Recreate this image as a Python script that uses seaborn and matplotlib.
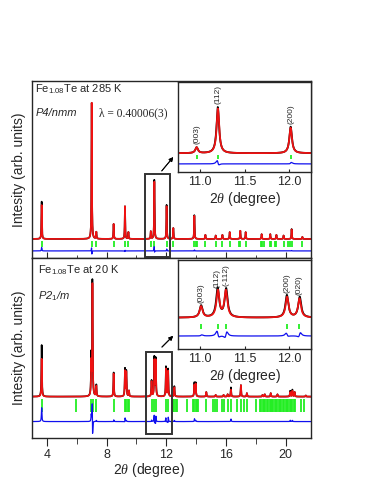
import numpy as np
import matplotlib
matplotlib.use("Agg")
import matplotlib.pyplot as plt
import seaborn as sns
from matplotlib.patches import Rectangle
from matplotlib.ticker import MultipleLocator

# ---- peak tables (2theta, calc height, obs height, obs shift) ----
rt_pos = [3.645, 7.00, 7.31, 8.47, 9.23, 9.46, 10.96, 11.20, 12.02, 12.47, 13.88,
          14.62, 15.31, 15.76, 16.25, 16.96, 17.32, 18.39, 18.97, 19.38, 19.86, 20.40, 21.12]
rt_calc = [25, 100, 5, 11, 24, 5, 5.5, 42, 24, 8, 17,
           3, 2.5, 3, 5, 6, 5, 3.5, 3.5, 3, 2.5, 7, 1.5]
rt_obs = [27.5, 100, 5, 11, 24, 5, 5.5, 43.5, 25, 8, 17.5,
          3, 2.5, 3, 5, 6, 5, 3.5, 3.5, 3, 2.5, 7.3, 1.5]
rt_shift = [0, -0.0006, 0, 0, 0.0005, 0, 0, -0.0012, 0.0006, 0, 0.0005,
            0, 0, 0, 0, 0, 0, 0, 0, 0, 0, 0, 0]
rt_ticks = [3.645, 7.0, 7.31, 8.47, 9.23, 9.46, 10.96, 11.2, 12.02, 12.47, 13.88, 13.97,
            14.05, 14.62, 15.31, 15.76, 16.25, 16.87, 16.96, 17.32, 18.35, 18.44, 18.52,
            18.92, 19.01, 19.28, 19.37, 19.86, 20.18, 20.27, 20.4, 21.12]

lt_pos = [3.645, 6.97, 7.05, 7.31, 8.47, 9.23, 9.32, 9.50, 11.01, 11.20, 11.29, 11.98,
          12.12, 12.54, 13.88, 13.97, 14.68, 15.31, 15.84, 16.11, 16.33, 17.00, 17.40,
          18.45, 18.60, 19.00, 19.45, 20.30, 20.45, 20.60, 21.35]
lt_calc = [33, 28, 97, 9, 20, 22, 21, 5, 13, 31, 31, 24,
           22, 8, 10, 11, 4, 1.5, 1.5, 2, 6, 10, 3,
           1.5, 2, 3, 2, 4, 5, 4, 1]
lt_obs = [45, 34, 100, 10, 21, 24, 22, 5, 14, 34, 33, 26,
          24, 9, 12, 12, 4, 1.5, 1.5, 2, 8, 10, 3,
          1.5, 2, 3, 2, 5, 6, 4, 1]
lt_shift = [0, 0, -0.004, 0, 0.001, 0.002, 0, 0, 0.001, -0.003, 0.003, -0.002,
            0.003, 0, 0.002, 0, 0, 0, 0, 0, 0.002, 0, 0,
            0, 0, 0, 0, 0.002, 0, 0, 0]
lt_ticks = [3.645, 5.97, 6.98, 7.08, 7.31, 8.47, 9.23, 9.32, 9.43, 9.52, 11.01, 11.2,
            11.29, 11.98, 12.12, 12.45, 12.54, 12.63, 12.71, 13.41, 13.79, 13.88, 13.97,
            14.05, 14.15, 14.68, 15.13, 15.26, 15.39, 15.71, 15.84, 16.11, 16.33, 16.73,
            17.0, 17.23, 17.4, 17.99, 18.25, 18.36, 18.45, 18.54, 18.62, 18.72, 18.83,
            18.92, 19.01, 19.1, 19.18, 19.27, 19.36, 19.45, 19.53, 19.62, 19.71, 19.8,
            19.9, 20.0, 20.09, 20.18, 20.27, 20.36, 20.45, 20.54, 20.63, 21.03, 21.25]

rt_hkl = ["(003)", "(112)", "(200)"]
rt_hkl_pos = [10.96, 11.20, 12.02]
lt_hkl = ["(003)", "(112)", "(-112)", "(200)", "(020)"]
lt_hkl_pos = [11.01, 11.19, 11.29, 11.98, 12.12]

RED, BLUE, GREEN = "#ee1111", "#1010ee", "#22ee22"


def profile(x, pos, height, shift, fwhm):
    """Somme de Lorentziennes."""
    y = np.zeros_like(x)
    for p, h, s in zip(pos, height, shift):
        y += h / (1 + ((x - p - s) / (fwhm / 2)) ** 2)
    return y


def draw_pattern(ax, x, obs, calc, ticks, tick_lo, tick_hi, diff_off, lw=1.2):
    sns.lineplot(x=x, y=obs, ax=ax, color="black", lw=lw, estimator=None, sort=False)
    sns.lineplot(x=x, y=calc, ax=ax, color=RED, lw=lw, estimator=None, sort=False)
    ax.vlines(ticks, tick_lo, tick_hi, color=GREEN, lw=1.3)
    sns.lineplot(x=x, y=obs - calc + diff_off, ax=ax, color=BLUE, lw=0.9,
                 estimator=None, sort=False)


sns.set_style("ticks")
plt.rcParams["font.family"] = ["Liberation Sans", "DejaVu Sans"]
plt.rcParams["mathtext.fontset"] = "custom"
plt.rcParams["mathtext.rm"] = "Liberation Sans"
plt.rcParams["mathtext.it"] = "Liberation Serif:italic"

x = np.arange(3.0, 21.7, 0.002)
fwhm_rt, fwhm_lt = 0.035, 0.04
rt_c = profile(x, rt_pos, rt_calc, [0] * len(rt_pos), fwhm_rt)
rt_o = profile(x, rt_pos, rt_obs, rt_shift, fwhm_rt)
lt_c = profile(x, lt_pos, lt_calc, [0] * len(lt_pos), fwhm_lt)
lt_o = profile(x, lt_pos, lt_obs, lt_shift, fwhm_lt)

fig = plt.figure(figsize=(3.71, 4.80), dpi=100)
ax1 = fig.add_axes([0.0863, 0.4625, 0.752, 0.36875])
ax2 = fig.add_axes([0.0863, 0.0875, 0.752, 0.375])
in1 = fig.add_axes([0.4798, 0.6417, 0.3585, 0.1875])
in2 = fig.add_axes([0.4798, 0.2729, 0.3585, 0.1854])

# --- panneau 285 K ---
draw_pattern(ax1, x, rt_o, rt_c, rt_ticks, -1.5, -5.9, -8.8)
ax1.set_xlim(3.0, 21.7)
ax1.set_ylim(-14, 116)
ax1.add_patch(Rectangle((10.56, -13.2), 1.71, 61, fill=False, ec="#333333", lw=1.4, zorder=5))
ax1.text(0.012, 0.935, "Fe$_{1.08}$Te at 285 K", transform=ax1.transAxes, fontsize=8)
ax1.text(0.012, 0.8, "P4/nmm", transform=ax1.transAxes, fontsize=8, style="italic")
ax1.text(0.24, 0.8, "λ = 0.40006(3)", transform=ax1.transAxes, fontsize=8.3,
         family="Liberation Serif")
ax1.set_ylabel("Intesity (arb. units)", fontsize=10, labelpad=4)
ax1.tick_params(axis="x", which="both", direction="inout", labelbottom=False)
ax1.tick_params(axis="x", which="major", length=8)
ax1.tick_params(axis="x", which="minor", length=5)

# --- panneau 20 K ---
draw_pattern(ax2, x, lt_o, lt_c, lt_ticks, -2, -13.2, -21.7)
ax2.set_xlim(3.0, 21.7)
ax2.set_ylim(-36, 120.6)
ax2.add_patch(Rectangle((10.66, -32.4), 1.7, 71.3, fill=False, ec="#333333", lw=1.4, zorder=5))
ax2.text(0.022, 0.915, "Fe$_{1.08}$Te at 20 K", transform=ax2.transAxes, fontsize=8)
ax2.text(0.022, 0.77, "P2$_{1}$/m", transform=ax2.transAxes, fontsize=8, style="italic")
ax2.set_ylabel("Intesity (arb. units)", fontsize=10, labelpad=4)
ax2.set_xlabel("2$\\mathit{\\theta}$ (degree)", fontsize=10)
ax2.xaxis.set_label_coords(0.42, -0.13)
ax2.tick_params(axis="x", which="both", direction="out", labelsize=9, pad=2)
ax2.tick_params(axis="x", which="major", length=6)
ax2.tick_params(axis="x", which="minor", length=4)

for ax in (ax1, ax2):
    ax.xaxis.set_major_locator(MultipleLocator(4))
    ax.xaxis.set_minor_locator(MultipleLocator(2))
    ax.set_yticks([])
    for sp in ax.spines.values():
        sp.set_linewidth(1.0)

# --- inserts ---
draw_pattern(in1, x, rt_o, rt_c, rt_ticks, -1.5, -5.5, -10, lw=1.3)
in1.set_ylim(-17.6, 67)
for p, lab in zip(rt_hkl_pos, rt_hkl):
    h = np.interp(p, x, rt_o)
    in1.text(p, h + 2.5, lab, rotation=90, ha="center", va="bottom", fontsize=6)

draw_pattern(in2, x, lt_o, lt_c, lt_ticks, -7.3, -13.6, -21.3, lw=1.3)
in2.set_ylim(-36.4, 67)
for p, lab in zip(lt_hkl_pos, lt_hkl):
    h = np.interp(p, x, lt_o)
    in2.text(p, h + 2.5, lab, rotation=90, ha="center", va="bottom", fontsize=6)

for ax in (in1, in2):
    ax.set_facecolor("white")
    ax.set_xlim(10.75, 12.25)
    ax.set_xticks([11.0, 11.5, 12.0])
    ax.set_yticks([])
    ax.tick_params(axis="x", direction="in", length=2, labelsize=9, pad=3)
    ax.set_xlabel("2$\\mathit{\\theta}$ (degree)", fontsize=10, labelpad=1)
    for sp in ax.spines.values():
        sp.set_linewidth(1.0)

# flèches vers les inserts
fig.add_artist(plt.annotate("", xy=(175, 325), xytext=(160, 307), xycoords="figure pixels",
                            arrowprops=dict(arrowstyle="-|>", lw=0.7, color="black",
                                            mutation_scale=6)))
fig.add_artist(plt.annotate("", xy=(175, 146), xytext=(160, 131), xycoords="figure pixels",
                            arrowprops=dict(arrowstyle="-|>", lw=0.7, color="black",
                                            mutation_scale=6)))

fig.savefig("out.png", dpi=100)
